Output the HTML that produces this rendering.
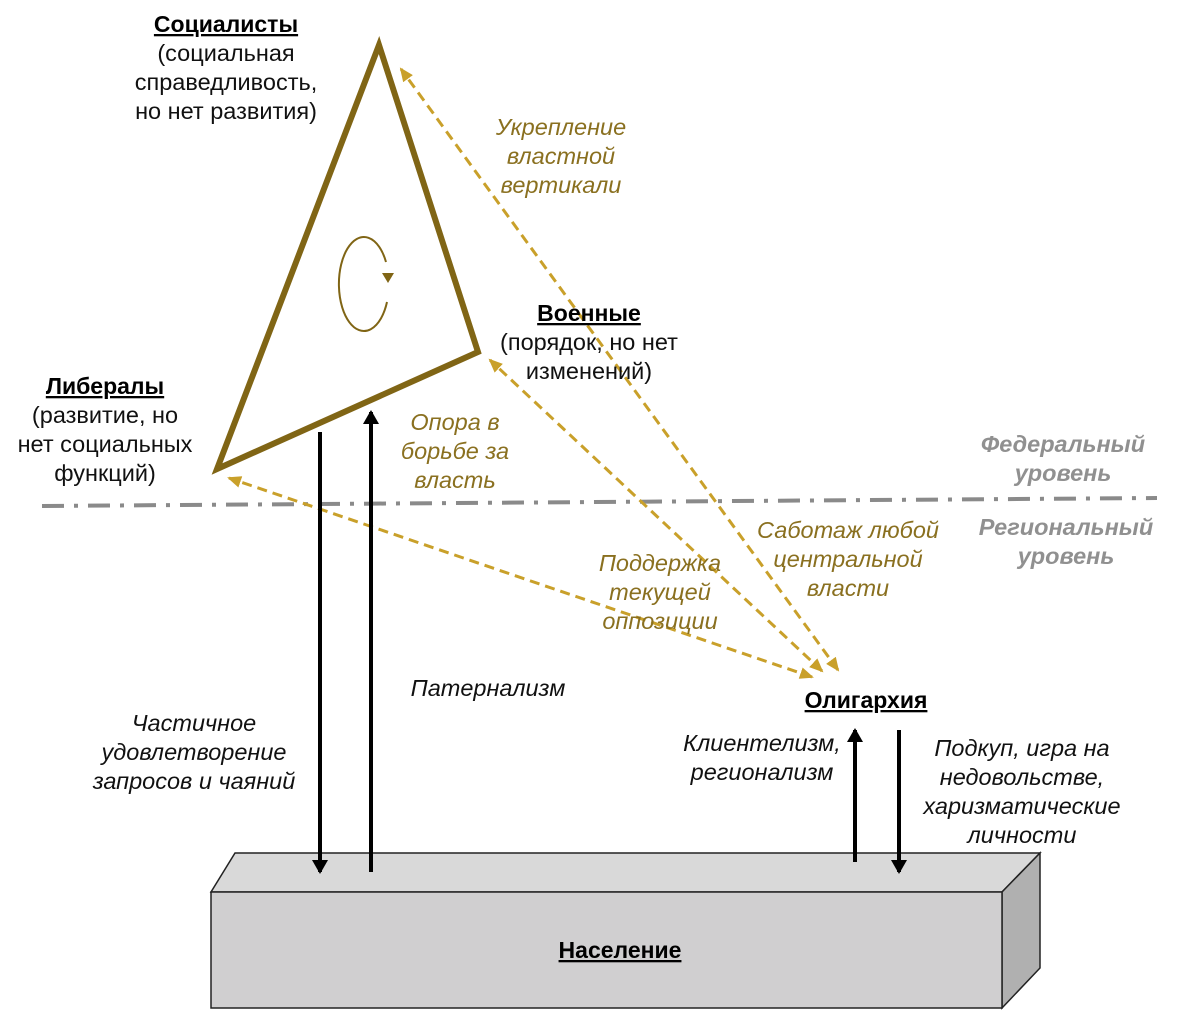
<!DOCTYPE html>
<html><head><meta charset="utf-8"><style>
html,body{margin:0;padding:0;background:#fff}
svg{display:block}
text{font-family:"Liberation Sans",sans-serif}
.b{font-size:23px;font-weight:bold;fill:#000;text-decoration:underline}
.n{font-size:23.5px;fill:#111}
.i{font-size:23.5px;font-style:italic;fill:#8a7020}
.k{font-size:23.5px;font-style:italic;fill:#111}
.g{font-size:23.5px;font-style:italic;font-weight:bold;fill:#909090}
</style></head><body>
<svg width="1177" height="1022" viewBox="0 0 1177 1022">
<defs>
<marker id="ga" markerWidth="14" markerHeight="14" refX="12" refY="7" orient="auto-start-reverse" markerUnits="userSpaceOnUse"><path d="M0,1 L14,7 L0,13 Z" fill="#c9a02a"/></marker>
<marker id="ba" markerWidth="14" markerHeight="16" refX="12" refY="8" orient="auto" markerUnits="userSpaceOnUse"><path d="M0,0 L14,8 L0,16 Z" fill="#000"/></marker>
</defs>
<polygon points="211,892 235,853 1040,853 1002,892" fill="#d9d9d9" stroke="#222" stroke-width="1.5"/>
<polygon points="1002,892 1040,853 1040,968 1002,1008" fill="#b0b0b0" stroke="#222" stroke-width="1.5"/>
<rect x="211" y="892" width="791" height="116" fill="#d0cfd0" stroke="#222" stroke-width="1.5"/>
<text x="620" y="958" class="b" text-anchor="middle">Население</text>
<line x1="42" y1="506" x2="1157" y2="498" stroke="#8a8a8a" stroke-width="4" stroke-dasharray="22,10,4,10"/>
<polygon points="379,45 478,352 217,469" fill="none" stroke="#806515" stroke-width="6" stroke-linejoin="miter"/>
<path d="M386,262 A25,47 0 1 0 387,302" fill="none" stroke="#806515" stroke-width="2"/>
<path d="M382,273 L394,273 L388,283 Z" fill="#806515"/>
<g stroke="#c9a02a" stroke-width="3" stroke-dasharray="10,6" fill="none">
<line x1="838" y1="670" x2="401" y2="69" marker-start="url(#ga)" marker-end="url(#ga)"/>
<line x1="822" y1="671" x2="490" y2="360" marker-start="url(#ga)" marker-end="url(#ga)"/>
<line x1="812" y1="677" x2="229" y2="478" marker-start="url(#ga)" marker-end="url(#ga)"/>
</g>
<g stroke="#000" stroke-width="4">
<line x1="320" y1="432" x2="320" y2="872" marker-end="url(#ba)"/>
<line x1="371" y1="872" x2="371" y2="412" marker-end="url(#ba)"/>
<line x1="855" y1="862" x2="855" y2="730" marker-end="url(#ba)"/>
<line x1="899" y1="730" x2="899" y2="872" marker-end="url(#ba)"/>
</g>
<text x="226" y="32" class="b" text-anchor="middle">Социалисты</text>
<text x="226" y="61" class="n" text-anchor="middle">(социальная</text>
<text x="226" y="90" class="n" text-anchor="middle">справедливость,</text>
<text x="226" y="119" class="n" text-anchor="middle">но нет развития)</text>
<text x="589" y="321" class="b" text-anchor="middle">Военные</text>
<text x="589" y="350" class="n" text-anchor="middle">(порядок, но нет</text>
<text x="589" y="379" class="n" text-anchor="middle">изменений)</text>
<text x="105" y="394" class="b" text-anchor="middle">Либералы</text>
<text x="105" y="423" class="n" text-anchor="middle">(развитие, но</text>
<text x="105" y="452" class="n" text-anchor="middle">нет социальных</text>
<text x="105" y="481" class="n" text-anchor="middle">функций)</text>
<text x="866" y="708" class="b" text-anchor="middle">Олигархия</text>
<text x="561" y="135" class="i" text-anchor="middle">Укрепление</text>
<text x="561" y="164" class="i" text-anchor="middle">властной</text>
<text x="561" y="193" class="i" text-anchor="middle">вертикали</text>
<text x="455" y="430" class="i" text-anchor="middle">Опора в</text>
<text x="455" y="459" class="i" text-anchor="middle">борьбе за</text>
<text x="455" y="488" class="i" text-anchor="middle">власть</text>
<text x="848" y="538" class="i" text-anchor="middle">Саботаж любой</text>
<text x="848" y="567" class="i" text-anchor="middle">центральной</text>
<text x="848" y="596" class="i" text-anchor="middle">власти</text>
<text x="660" y="571" class="i" text-anchor="middle">Поддержка</text>
<text x="660" y="600" class="i" text-anchor="middle">текущей</text>
<text x="660" y="629" class="i" text-anchor="middle">оппозиции</text>
<text x="1063" y="452" class="g" text-anchor="middle">Федеральный</text>
<text x="1063" y="481" class="g" text-anchor="middle">уровень</text>
<text x="1066" y="535" class="g" text-anchor="middle">Региональный</text>
<text x="1066" y="564" class="g" text-anchor="middle">уровень</text>
<text x="488" y="696" class="k" text-anchor="middle">Патернализм</text>
<text x="194" y="731" class="k" text-anchor="middle">Частичное</text>
<text x="194" y="760" class="k" text-anchor="middle">удовлетворение</text>
<text x="194" y="789" class="k" text-anchor="middle">запросов и чаяний</text>
<text x="762" y="751" class="k" text-anchor="middle">Клиентелизм,</text>
<text x="762" y="780" class="k" text-anchor="middle">регионализм</text>
<text x="1022" y="756" class="k" text-anchor="middle">Подкуп, игра на</text>
<text x="1022" y="785" class="k" text-anchor="middle">недовольстве,</text>
<text x="1022" y="814" class="k" text-anchor="middle">харизматические</text>
<text x="1022" y="843" class="k" text-anchor="middle">личности</text>
</svg>
</body></html>
